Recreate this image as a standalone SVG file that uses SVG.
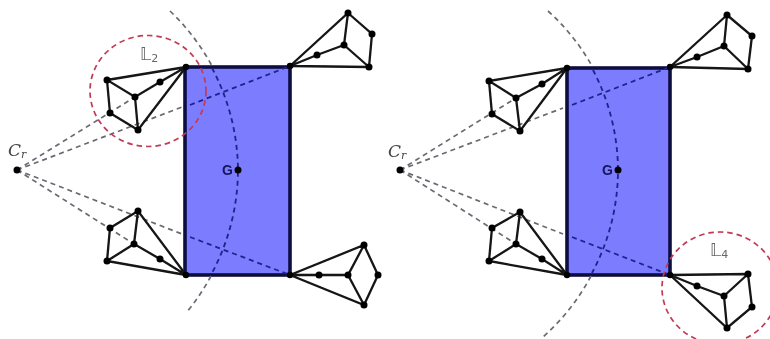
<svg xmlns="http://www.w3.org/2000/svg" width="770" height="339" viewBox="0 0 770 339">
<style>
.plate{fill:#7b7bff;stroke:#0b0b40;stroke-width:3.6}
.dash{fill:none;stroke:#6a6a72;stroke-width:1.7;stroke-dasharray:5 4}
.dashin{fill:none;stroke:#22228c;stroke-width:1.8;stroke-dasharray:5 4}
.edge{fill:none;stroke:#141414;stroke-width:2.3}
.dot{fill:#050505}
.ring{fill:none;stroke:#c23a55;stroke-width:1.7;stroke-dasharray:5.5 4}
.cr{font-family:"DejaVu Serif","Liberation Serif",serif;font-style:italic;font-size:17px;fill:#444}
.ll{font-family:"DejaVu Sans","Liberation Sans",sans-serif;font-size:17px;fill:#666}
.sub{font-size:11px}
.g{font-family:"Liberation Sans",sans-serif;font-weight:bold;font-size:14px;fill:#14145a}
</style>
<defs>
<filter id="soft" x="0" y="0" width="100%" height="100%" filterUnits="userSpaceOnUse" primitiveUnits="userSpaceOnUse"><feGaussianBlur stdDeviation="0.45"/></filter>
</defs>
<rect width="770" height="339" fill="#fff"/>
<g filter="url(#soft)">
<g id="plate-left"><rect class="plate" x="185" y="67" width="105" height="208"/></g>
<g id="plate-right"><rect class="plate" x="567" y="68" width="103" height="207"/></g>
<g id="connectors">
<path class="dash" d="M17 170L135 97M17 170L182 107M17 170L134 244M17 170L182 234"/>
<path class="dash" d="M170 11A221 221 0 0 1 212 66M211 276A221 221 0 0 1 186 313"/>
<path class="dashin" d="M190 105L290 66M190 237L290 275M212 68A221 221 0 0 1 238 170A221 221 0 0 1 212 273"/>
<path class="dash" d="M400 170L516 98M400 170L563 108M400 170L516 244M400 170L563 234"/>
<path class="dash" d="M548 11A218 218 0 0 1 592 66M591 276A218 218 0 0 1 543 337"/>
<path class="dashin" d="M572 105L670 67M572 237L670 275M593 70A218 218 0 0 1 618 170A218 218 0 0 1 592 273"/>
</g>
<g id="quad-l1"><path class="edge" d="M186 67L107 80L135 97L160 82L186 67L138 130L110 113L107 80M135 97L138 130"/><g class="dot"><circle cx="186" cy="67" r="3.2"/><circle cx="107" cy="80" r="3.5"/><circle cx="135" cy="97" r="3.5"/><circle cx="160" cy="82" r="3.5"/><circle cx="110" cy="113" r="3.5"/><circle cx="138" cy="130" r="3.5"/></g></g>
<g id="quad-l2"><path class="edge" d="M290 66L348 13L344 45L317 55L290 66L369 67L372 34L348 13M344 45L369 67"/><g class="dot"><circle cx="290" cy="66" r="3.2"/><circle cx="348" cy="13" r="3.5"/><circle cx="344" cy="45" r="3.5"/><circle cx="317" cy="55" r="3.5"/><circle cx="372" cy="34" r="3.5"/><circle cx="369" cy="67" r="3.5"/></g></g>
<g id="quad-l3"><path class="edge" d="M186 275L138 211L110 228L107 261L186 275L160 259L134 244L138 211M134 244L107 261"/><g class="dot"><circle cx="186" cy="275" r="3.2"/><circle cx="138" cy="211" r="3.5"/><circle cx="110" cy="228" r="3.5"/><circle cx="134" cy="244" r="3.5"/><circle cx="160" cy="259" r="3.5"/><circle cx="107" cy="261" r="3.5"/></g></g>
<g id="quad-l4"><path class="edge" d="M290 275L364 245L378 275L364 305L290 275L348 275L364 245M348 275L364 305"/><g class="dot"><circle cx="290" cy="275" r="3.2"/><circle cx="364" cy="245" r="3.5"/><circle cx="348" cy="275" r="3.5"/><circle cx="319" cy="275" r="3.5"/><circle cx="378" cy="275" r="3.5"/><circle cx="364" cy="305" r="3.5"/></g></g>
<g id="quad-r1"><path class="edge" d="M567 68L489 81L516 98L542 84L567 68L520 131L492 114L489 81M516 98L520 131"/><g class="dot"><circle cx="567" cy="68" r="3.2"/><circle cx="489" cy="81" r="3.5"/><circle cx="516" cy="98" r="3.5"/><circle cx="542" cy="84" r="3.5"/><circle cx="492" cy="114" r="3.5"/><circle cx="520" cy="131" r="3.5"/></g></g>
<g id="quad-r2"><path class="edge" d="M670 67L727 15L724 46L697 57L670 67L748 69L752 36L727 15M724 46L748 69"/><g class="dot"><circle cx="670" cy="67" r="3.2"/><circle cx="727" cy="15" r="3.5"/><circle cx="724" cy="46" r="3.5"/><circle cx="697" cy="57" r="3.5"/><circle cx="752" cy="36" r="3.5"/><circle cx="748" cy="69" r="3.5"/></g></g>
<g id="quad-r3"><path class="edge" d="M567 275L520 212L492 228L489 261L567 275L542 259L516 244L520 212M516 244L489 261"/><g class="dot"><circle cx="567" cy="275" r="3.2"/><circle cx="520" cy="212" r="3.5"/><circle cx="492" cy="228" r="3.5"/><circle cx="516" cy="244" r="3.5"/><circle cx="542" cy="259" r="3.5"/><circle cx="489" cy="261" r="3.5"/></g></g>
<g id="quad-r4"><path class="edge" d="M670 275L748 274L752 307L727 328L670 275L697 286L724 296L748 274M724 296L727 328"/><g class="dot"><circle cx="670" cy="275" r="3.2"/><circle cx="748" cy="274" r="3.5"/><circle cx="724" cy="296" r="3.5"/><circle cx="697" cy="286" r="3.5"/><circle cx="752" cy="307" r="3.5"/><circle cx="727" cy="328" r="3.5"/></g></g>
<g id="ring-2"><ellipse class="ring" cx="148" cy="91" rx="58" ry="55.5"/><text class="ll" x="140" y="60">𝕃<tspan class="sub" dy="2">2</tspan></text></g>
<g id="ring-4"><ellipse class="ring" cx="720" cy="288" rx="58" ry="56"/><text class="ll" x="710" y="256">𝕃<tspan class="sub" dy="2">4</tspan></text></g>
<g id="center-left"><circle class="dot" cx="17" cy="170" r="3.5"/><text class="cr" x="8" y="156">C<tspan class="sub" dy="2">r</tspan></text></g>
<g id="center-right"><circle class="dot" cx="400" cy="170" r="3.5"/><text class="cr" x="388" y="157">C<tspan class="sub" dy="2">r</tspan></text></g>
<g id="g-left"><circle class="dot" cx="238" cy="170" r="3.5"/><text class="g" x="222" y="175">G</text></g>
<g id="g-right"><circle class="dot" cx="618" cy="170" r="3.5"/><text class="g" x="602" y="175">G</text></g>
</g>
</svg>
